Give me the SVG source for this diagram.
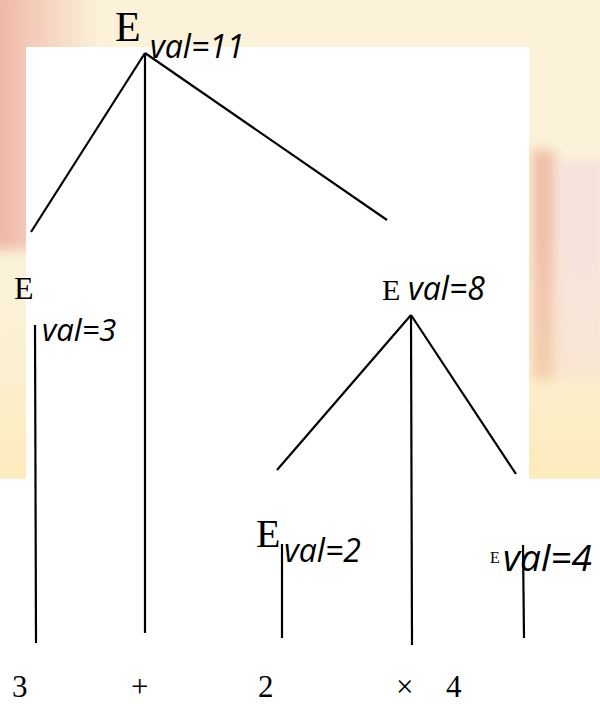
<svg xmlns="http://www.w3.org/2000/svg" width="600" height="704" viewBox="0 0 600 704">
<defs>
<linearGradient id="lg" x1="0" y1="0" x2="1" y2="0">
<stop offset="0" stop-color="#eeb2a4"/>
<stop offset="1" stop-color="#eeb2a4" stop-opacity="0"/>
</linearGradient>
<linearGradient id="lv" x1="0" y1="0" x2="0" y2="1">
<stop offset="0" stop-color="#fcf3dc" stop-opacity="0"/>
<stop offset="0.5" stop-color="#fdeabb" stop-opacity="0.3"/>
<stop offset="1" stop-color="#fdeabb"/>
</linearGradient>
<filter id="bl" x="-20%" y="-20%" width="140%" height="140%"><feGaussianBlur stdDeviation="6"/></filter>
</defs>
<style>
.e{font-family:"Liberation Serif","DejaVu Serif",serif;fill:#000}
.v{font-family:"Open Sans","Noto Sans",sans-serif;font-style:italic;fill:#000}
.c line{stroke:#000;stroke-width:2.2;stroke-linecap:butt}
</style>
<g id="background">
<rect x="0" y="0" width="600" height="704" fill="#fcf2da"/>
<g filter="url(#bl)">
<rect x="-10" y="-10" width="110" height="260" fill="url(#lg)"/>
<rect x="532" y="150" width="22" height="230" fill="#f0bfa6"/>
<rect x="556" y="160" width="50" height="220" fill="#f7e2dc"/>
<rect x="-10" y="240" width="620" height="240" fill="url(#lv)"/>
</g>
<rect x="26" y="47" width="503" height="432" fill="#fff"/>
<rect x="0" y="479" width="600" height="225" fill="#fff"/>
</g>
<g id="connectors" class="c">
<line x1="145" y1="53" x2="31" y2="232"/>
<line x1="145" y1="53" x2="145" y2="633"/>
<line x1="145" y1="53" x2="387" y2="220"/>
<line x1="35" y1="325" x2="36" y2="643"/>
<line x1="411" y1="315" x2="277" y2="470"/>
<line x1="411" y1="315" x2="412" y2="645"/>
<line x1="411" y1="315" x2="516" y2="474"/>
<line x1="282" y1="544" x2="282" y2="638"/>
<line x1="523" y1="545" x2="524" y2="638"/>
</g>
<g id="node-root">
<text class="e" x="115" y="41" font-size="42">E</text>
<text class="v" x="150" y="58" font-size="32">val=11</text>
</g>
<g id="node-left">
<text class="e" x="14" y="299" font-size="32">E</text>
<text class="v" x="42" y="341" font-size="31">val=3</text>
</g>
<g id="node-right">
<text class="e" x="382" y="300" font-size="30">E</text>
<text class="v" x="408" y="300" font-size="32">val=8</text>
</g>
<g id="node-e2">
<text class="e" x="256" y="547" font-size="40">E</text>
<text class="v" x="284" y="562" font-size="32">val=2</text>
</g>
<g id="node-e4">
<text class="e" x="490" y="563" font-size="16">E</text>
<text class="v" x="503" y="571" font-size="37">val=4</text>
</g>
<g id="tokens">
<text class="e" x="12" y="697" font-size="31">3</text>
<text class="e" x="131" y="697" font-size="31">+</text>
<text class="e" x="258" y="697" font-size="31">2</text>
<text class="e" x="396" y="697" font-size="31">×</text>
<text class="e" x="446" y="697" font-size="31">4</text>
</g>
</svg>
